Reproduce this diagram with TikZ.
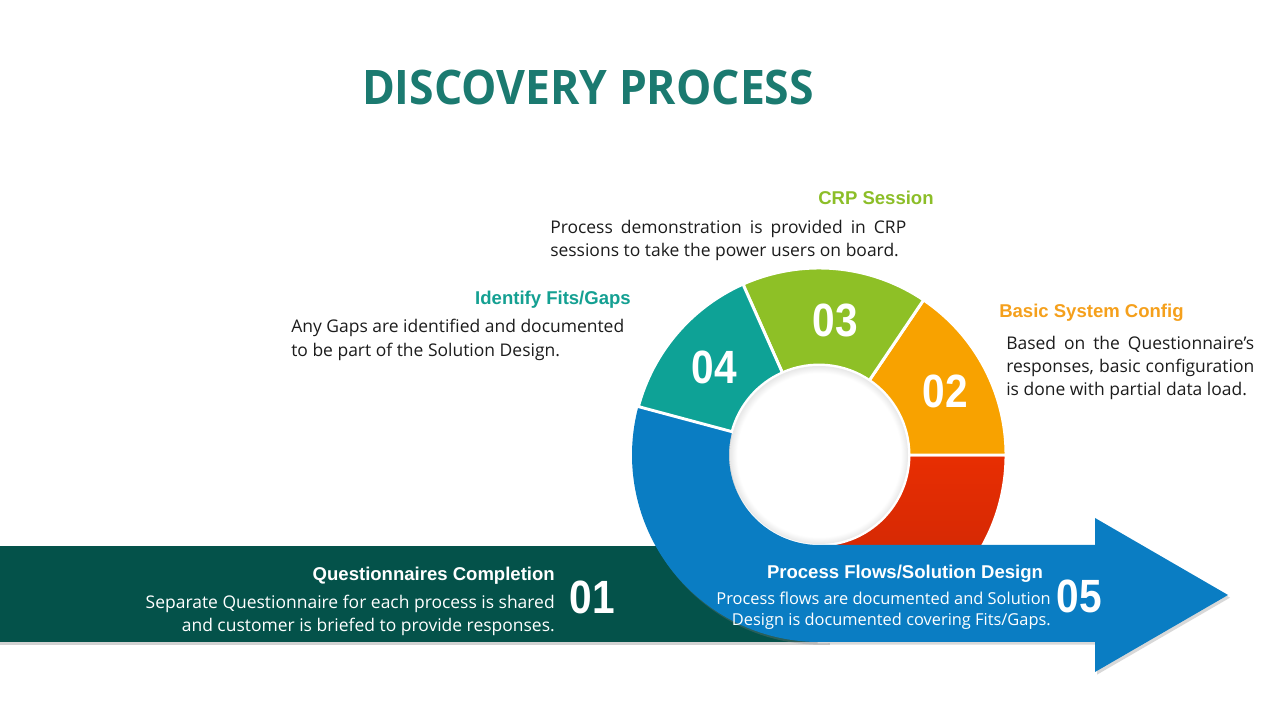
\documentclass[tikz,border=0pt]{standalone}
\usepackage{fontspec}
\usepackage{graphicx}
\setmainfont{Open Sans}
\newfontfamily\headfont{Liberation Sans}
\usetikzlibrary{shadows,calc}
\definecolor{titlec}{RGB}{27,122,112}
\definecolor{tealc}{RGB}{14,162,150}
\definecolor{greenc}{RGB}{142,192,38}
\definecolor{orangec}{RGB}{248,162,0}
\definecolor{redc}{RGB}{232,46,2}
\definecolor{redd}{RGB}{196,36,6}
\definecolor{bluec}{RGB}{10,125,195}
\definecolor{barc}{RGB}{4,82,74}
\definecolor{bodyc}{RGB}{28,28,28}
\definecolor{orangel}{RGB}{245,160,28}
\definecolor{greenl}{RGB}{140,190,40}
\definecolor{teall}{RGB}{20,160,146}
\pgfdeclareradialshading{innershadow}{\pgfpoint{0bp}{0bp}}{rgb(0bp)=(1,1,1); rgb(23bp)=(1,1,1); rgb(25bp)=(0.91,0.91,0.91); rgb(50bp)=(0.91,0.91,0.91)}
\newcommand{\ringseg}[3]{\path[#3] ($(C)+(#1:187)$) arc[start angle=#1, end angle=#2, radius=187] -- ($(C)+(#2:90)$) arc[start angle=#2, end angle=#1, radius=90] -- cycle;}
\begin{document}
\begin{tikzpicture}[x=0.75pt,y=0.75pt,
  seg/.style={draw=white, line width=2.2pt},
  body/.style={font=\fontsize{13.1}{17.25}\selectfont, text=bodyc, inner sep=0pt},
  head/.style={font=\headfont\bfseries\fontsize{13.9}{16}\selectfont, inner sep=0pt},
  num/.style={font=\headfont\bfseries\fontsize{35}{40}\selectfont, text=white, inner sep=0pt}]
\fill[white] (0,0) rectangle (1280,720);
\useasboundingbox (0,0) rectangle (1280,720);
\coordinate (C) at (819,265);
% title
\node[inner sep=0pt, text=titlec, font=\bfseries\fontsize{35.7}{40}\selectfont] (title) at (588,633) {\resizebox{339pt}{\height}{DISCOVERY PROCESS}};
% dark green bar
\fill[barc, drop shadow={shadow xshift=0pt, shadow yshift=-2.5pt, opacity=0.35}] (0,78) rectangle (830,174);
% ring segments
\ringseg{-90}{0}{seg, top color=redc, bottom color=redd, shade}
% blue ring + arrow
\path[fill=bluec, drop shadow={shadow xshift=1.5pt, shadow yshift=-2pt, opacity=0.3}] ($(C)+(165:187)$) arc[start angle=165, end angle=270, radius=187] -- (1095,78) -- (1095,48) -- (1228,125) -- (1095,202) -- (1095,175) -- ($(C)+(270:90)$) arc[start angle=270, end angle=165, radius=90] -- cycle;
\ringseg{0}{56}{seg, fill=orangec}
\ringseg{56}{114}{seg, fill=greenc}
\ringseg{114}{165}{seg, fill=tealc}
\shade[shading=innershadow] (C) circle[radius=89];
% numbers
\node[num] (n01) at (592,123) {\scalebox{0.87}[1]{01}};
\node[num] (n02) at (945,329) {\scalebox{0.87}[1]{02}};
\node[num] (n03) at (835,400) {\scalebox{0.87}[1]{03}};
\node[num] (n04) at (714,353) {\scalebox{0.87}[1]{04}};
\node[num] (n05) at (1079,124) {\scalebox{0.87}[1]{05}};
% texts (base anchor = baseline of the last line)
\node[head, text=greenl, anchor=base west] (crph) at (818,515) {CRP Session};
\node[body, anchor=base west, align=left] (crpt) at (550,463) {\makebox[267pt][s]{Process demonstration is provided in CRP}\\sessions to take the power users on board.};
\node[head, text=teall, anchor=base east] (fith) at (631,415) {Identify Fits/Gaps};
\node[body, anchor=base west, align=left, font=\fontsize{13.1}{18}\selectfont] (fitt) at (291,363) {Any Gaps are identified and documented\\to be part of the Solution Design.};
\node[head, text=orangel, anchor=base west] (cfgh) at (999,402) {Basic System Config};
\node[body, anchor=base west, align=left] (cfgt) at (1006,324) {\makebox[186pt][s]{Based on the Questionnaire{\char"27}s}\\\makebox[186pt][s]{responses, basic configuration}\\is done with partial data load.};
\node[head, text=white, anchor=base east] (qh) at (555,139) {Questionnaires Completion};
\node[body, text=white, anchor=base east, align=right] (qt) at (555,88) {Separate Questionnaire for each process is shared\\and customer is briefed to provide responses.};
\node[head, text=white, anchor=base] (ph) at (905,141) {Process Flows/Solution Design};
\node[body, text=white, anchor=base east, align=right, font=\fontsize{12.3}{16}\selectfont] (pt) at (1051,94) {Process flows are documented and Solution\\Design is documented covering Fits/Gaps.};
\end{tikzpicture}
\end{document}
